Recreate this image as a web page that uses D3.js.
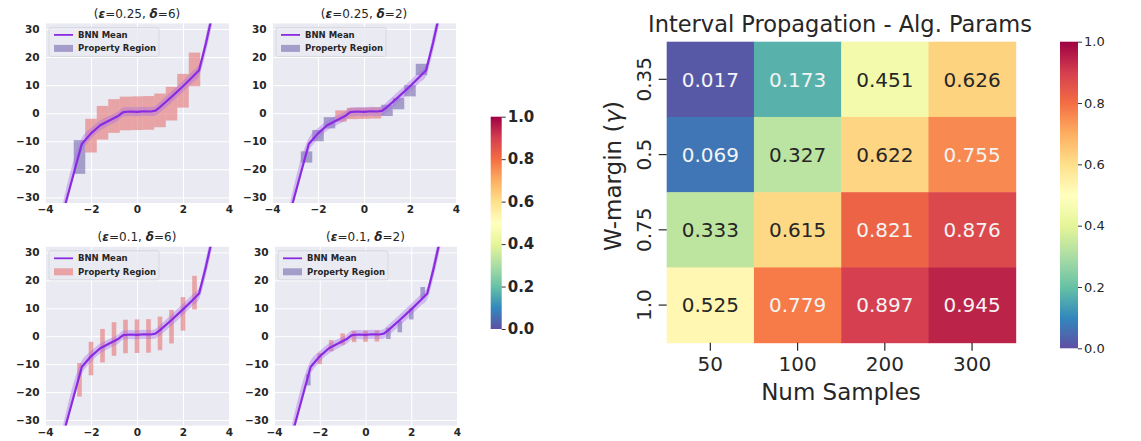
<!DOCTYPE html>
<html>
<head>
<meta charset="utf-8">
<script src="https://cdn.jsdelivr.net/npm/d3@7"></script>
<style>
  body { margin: 0; background: #fff; }
  svg { display: block; font-family: "DejaVu Sans", sans-serif; }
</style>
</head>
<body>
<svg id="chart" width="1141" height="441"></svg>
<script>
// ---- data: BNN mean curve ----
const meanX = [-3.3, -2.4, -2.0, -1.6, -1.2, -0.8, -0.6, -0.3, 0.0, 0.3, 0.6, 0.8, 1.0, 1.5, 2.0, 2.4, 2.7, 3.0, 3.3];
const meanY = [-38, -11, -7.2, -4.3, -2.6, -0.9, 0.4, 0.6, 0.5, 0.7, 0.6, 0.9, 2.2, 5.8, 9.6, 12.8, 15.3, 25, 36];
const bandLo = [-40, -13.5, -9.2, -6.2, -4.3, -2.5, -1.2, -1, -1.1, -0.9, -1, -0.8, 0.3, 3.8, 7.6, 10.8, 13.3, 22, 33];
const bandHi = [-35, -8.8, -5.3, -2.6, -1, 0.7, 2, 2.2, 2.1, 2.3, 2.2, 2.6, 4.1, 7.8, 11.6, 14.8, 17.4, 28, 39];

// property regions: centres
const regionX = [-2.5, -2, -1.5, -1, -0.5, 0, 0.5, 1, 1.5, 2, 2.5];
const regionY = [-15.6, -8, -3.4, -1, -0.1, 0, 0.1, 1, 3.4, 8, 15.6];

// 1 = verified (red), 0 = not verified (purple)
const status1 = [0, 1, 1, 1, 1, 1, 1, 1, 1, 1, 1];
const status2 = [0, 0, 0, 1, 1, 1, 1, 0, 0, 0, 0];
const status3 = [1, 1, 1, 1, 1, 1, 1, 1, 1, 1, 1];
const status4 = [0, 1, 1, 1, 1, 1, 1, 0, 0, 0, 0];

const epsValues = [0.25, 0.25, 0.1, 0.1];
const deltaValues = [6, 2, 6, 2];

const xTicks = [-4, -2, 0, 2, 4];
const yTicks = [-30, -20, -10, 0, 10, 20, 30];
const cbTicks = [0, 0.2, 0.4, 0.6, 0.8, 1.0];

// ---- data: heatmap ----
const numSamples = ["50", "100", "200", "300"];
const wMargins = ["0.35", "0.5", "0.75", "1.0"];
const heatValues = [
  [0.017, 0.173, 0.451, 0.626],
  [0.069, 0.327, 0.622, 0.755],
  [0.333, 0.615, 0.821, 0.876],
  [0.525, 0.779, 0.897, 0.945]
];

const svg = d3.select("#chart");
// Spectral_r, linear between the 11 anchor colours like matplotlib
const spectralR = d3.schemeSpectral[11].slice().reverse();
const color = d3.scaleLinear()
  .domain(spectralR.map((_, k) => k / 10))
  .range(spectralR)
  .interpolate(d3.interpolateRgb);
const RED = "#e45c5a", PURPLE = "#5e4fa2", LINE = "#8a2be2";

const panelBoxes = [
  { left: 45, right: 229, top: 23.4, bottom: 203 },
  { left: 272, right: 456, top: 23.4, bottom: 203 },
  { left: 45, right: 229, top: 246.8, bottom: 425.6 },
  { left: 274, right: 457, top: 246.8, bottom: 425.6 }
];
const statuses = [status1, status2, status3, status4];

function drawPanel(i) {
  const b = panelBoxes[i];
  const eps = epsValues[i], delta = deltaValues[i], status = statuses[i];
  const x = d3.scaleLinear().domain([-4, 4]).range([b.left, b.right]);
  const y = d3.scaleLinear().domain([-32, 32]).range([b.bottom, b.top]);
  const w = b.right - b.left, h = b.bottom - b.top;
  const g = svg.append("g");

  g.append("rect")
    .attr("x", b.left).attr("y", b.top)
    .attr("width", w).attr("height", h)
    .attr("fill", "#eaeaf2");

  const xAxis = g.append("g")
    .attr("transform", `translate(0,${b.bottom})`)
    .call(d3.axisBottom(x).tickValues(xTicks).tickSize(-h).tickPadding(3));
  const yAxis = g.append("g")
    .attr("transform", `translate(${b.left},0)`)
    .call(d3.axisLeft(y).tickValues(yTicks).tickSize(-w).tickPadding(5.5));
  [xAxis, yAxis].forEach((a) => {
    a.select(".domain").remove();
    a.selectAll("line").attr("stroke", "#fff").attr("stroke-width", 1);
    a.selectAll("text")
      .attr("fill", "#262626")
      .style("font-size", "10.5px")
      .style("font-weight", "bold")
      .style("font-family", "DejaVu Sans");
  });

  const clipId = `clip-${i}`;
  g.append("clipPath").attr("id", clipId)
    .append("rect")
    .attr("x", b.left).attr("y", b.top)
    .attr("width", w).attr("height", h);
  const inner = g.append("g").attr("clip-path", `url(#${clipId})`);

  inner.selectAll("rect.region")
    .data(regionX.map((cx, k) => ({ cx, cy: regionY[k], s: status[k] })))
    .join("rect")
    .attr("class", "region")
    .attr("x", (d) => x(d.cx - eps))
    .attr("y", (d) => y(d.cy + delta))
    .attr("width", (d) => x(d.cx + eps) - x(d.cx - eps))
    .attr("height", (d) => y(d.cy - delta) - y(d.cy + delta))
    .attr("fill", (d) => (d.s ? RED : PURPLE))
    .attr("fill-opacity", 0.5);

  const pts = meanX.map((mx, k) => ({ x: mx, y: meanY[k], lo: bandLo[k], hi: bandHi[k] }));
  inner.append("path")
    .datum(pts)
    .attr("d", d3.area().x((d) => x(d.x)).y0((d) => y(d.lo)).y1((d) => y(d.hi)).curve(d3.curveMonotoneX))
    .attr("fill", "#a86ee6")
    .attr("fill-opacity", 0.4);
  inner.append("path")
    .datum(pts)
    .attr("d", d3.line().x((d) => x(d.x)).y((d) => y(d.y)))
    .attr("fill", "none")
    .attr("stroke", LINE)
    .attr("stroke-width", 2.2)
    .attr("stroke-linejoin", "round");

  // legend
  const lg = g.append("g").attr("transform", `translate(${b.left + 4},${b.top + 4})`);
  lg.append("rect")
    .attr("width", 110).attr("height", 29).attr("rx", 2)
    .attr("fill", "#eaeaf2").attr("fill-opacity", 0.8)
    .attr("stroke", "#d8d8e0");
  lg.append("line")
    .attr("x1", 5).attr("x2", 24).attr("y1", 7.5).attr("y2", 7.5)
    .attr("stroke", LINE).attr("stroke-width", 1.8);
  lg.append("rect")
    .attr("x", 5).attr("y", 17.5).attr("width", 19).attr("height", 7)
    .attr("fill", status[0] ? RED : PURPLE).attr("fill-opacity", 0.5);
  lg.selectAll("text.leg")
    .data(["BNN Mean", "Property Region"])
    .join("text")
    .attr("class", "leg")
    .attr("x", 29)
    .attr("y", (d, k) => 10.5 + k * 13.5)
    .attr("fill", "#262626")
    .style("font-size", "8.5px")
    .style("font-weight", "bold")
    .text((d) => d);

  // title
  const t = g.append("text")
    .attr("x", (b.left + b.right) / 2)
    .attr("y", b.top - 5.5)
    .attr("text-anchor", "middle")
    .attr("fill", "#262626")
    .style("font-size", "12px")
    .style("font-weight", "normal");
  t.append("tspan").text("(");
  t.append("tspan").style("font-weight", "bold").style("font-style", "italic").text("ε");
  t.append("tspan").text(`=${eps}, `);
  t.append("tspan").style("font-weight", "bold").style("font-style", "italic").text("δ");
  t.append("tspan").text(`=${delta})`);
}

[0, 1, 2, 3].forEach(drawPanel);

// ---- colorbars ----
const defs = svg.append("defs");
const grad = defs.append("linearGradient")
  .attr("id", "spectral").attr("x1", 0).attr("x2", 0).attr("y1", 1).attr("y2", 0);
grad.selectAll("stop")
  .data(d3.range(0, 1.0001, 0.05))
  .join("stop")
  .attr("offset", (d) => d)
  .attr("stop-color", (d) => color(d));

function colorbar(box, fontSize, weight, tickLen) {
  const s = d3.scaleLinear().domain([0, 1]).range([box.bottom, box.top]);
  svg.append("rect")
    .attr("x", box.left).attr("y", box.top)
    .attr("width", box.width).attr("height", box.bottom - box.top)
    .attr("fill", "url(#spectral)");
  const ax = svg.append("g")
    .attr("transform", `translate(${box.left + box.width},0)`)
    .call(d3.axisRight(s).tickValues(cbTicks).tickFormat(d3.format(".1f"))
      .tickSize(tickLen).tickPadding(2));
  ax.select(".domain").remove();
  ax.selectAll("line").attr("stroke", "#333");
  ax.selectAll("text")
    .attr("fill", "#262626")
    .style("font-size", fontSize)
    .style("font-weight", weight)
    .style("font-family", "DejaVu Sans");
}

colorbar({ left: 490.7, width: 11, top: 116.7, bottom: 329 }, "15px", "bold", 4);

// ---- heatmap ----
const hx = d3.scaleBand().domain(numSamples).range([666.7, 1015.7]);
const hy = d3.scaleBand().domain(wMargins).range([41.7, 342.7]);
const cells = [];
wMargins.forEach((r, i) => numSamples.forEach((c, j) => cells.push({ r, c, v: heatValues[i][j] })));

const hg = svg.append("g");
hg.selectAll("rect.cell")
  .data(cells)
  .join("rect")
  .attr("class", "cell")
  .attr("x", (d) => hx(d.c))
  .attr("y", (d) => hy(d.r))
  .attr("width", hx.bandwidth() + 0.5)
  .attr("height", hy.bandwidth() + 0.5)
  .attr("fill", (d) => color(d.v));

function lum(c) {
  const rgb = d3.rgb(c);
  const f = (u) => { u /= 255; return u <= 0.03928 ? u / 12.92 : Math.pow((u + 0.055) / 1.055, 2.4); };
  return 0.2126 * f(rgb.r) + 0.7152 * f(rgb.g) + 0.0722 * f(rgb.b);
}

hg.selectAll("text.val")
  .data(cells)
  .join("text")
  .attr("class", "val")
  .attr("x", (d) => hx(d.c) + hx.bandwidth() / 2)
  .attr("y", (d) => hy(d.r) + hy.bandwidth() / 2)
  .attr("dy", "0.36em")
  .attr("text-anchor", "middle")
  .attr("fill", (d) => (lum(color(d.v)) > 0.408 ? "#262626" : "#f4f4f4"))
  .style("font-size", "20px")
  .text((d) => d3.format(".3f")(d.v));

const hxAxis = svg.append("g")
  .attr("transform", `translate(0,${342.7})`)
  .call(d3.axisBottom(hx).tickSize(8).tickPadding(6));
const hyAxis = svg.append("g")
  .attr("transform", `translate(${666.7},0)`)
  .call(d3.axisLeft(hy).tickSize(8).tickPadding(6));
[hxAxis, hyAxis].forEach((a) => {
  a.select(".domain").remove();
  a.selectAll("line").attr("stroke", "#262626").attr("stroke-width", 1.2);
  a.selectAll("text")
    .attr("fill", "#262626")
    .style("font-size", "20px")
    .style("font-family", "DejaVu Sans");
});
hyAxis.selectAll("text")
  .attr("x", null).attr("dy", null)
  .attr("text-anchor", "middle")
  .attr("transform", "translate(-16,0) rotate(-90)");

svg.append("text")
  .attr("x", 840).attr("y", 32)
  .attr("text-anchor", "middle")
  .attr("fill", "#262626")
  .style("font-size", "22.5px")
  .text("Interval Propagation - Alg. Params");

svg.append("text")
  .attr("x", 841).attr("y", 400)
  .attr("text-anchor", "middle")
  .attr("fill", "#262626")
  .style("font-size", "23px")
  .text("Num Samples");

const yl = svg.append("text")
  .attr("transform", "translate(621,176) rotate(-90)")
  .attr("text-anchor", "middle")
  .attr("fill", "#262626")
  .style("font-size", "23px");
yl.append("tspan").text("W-margin (");
yl.append("tspan").style("font-style", "italic").text("γ");
yl.append("tspan").text(")");

colorbar({ left: 1060, width: 18, top: 41.7, bottom: 348.3 }, "13px", "normal", 4);
</script>
</body>
</html>
